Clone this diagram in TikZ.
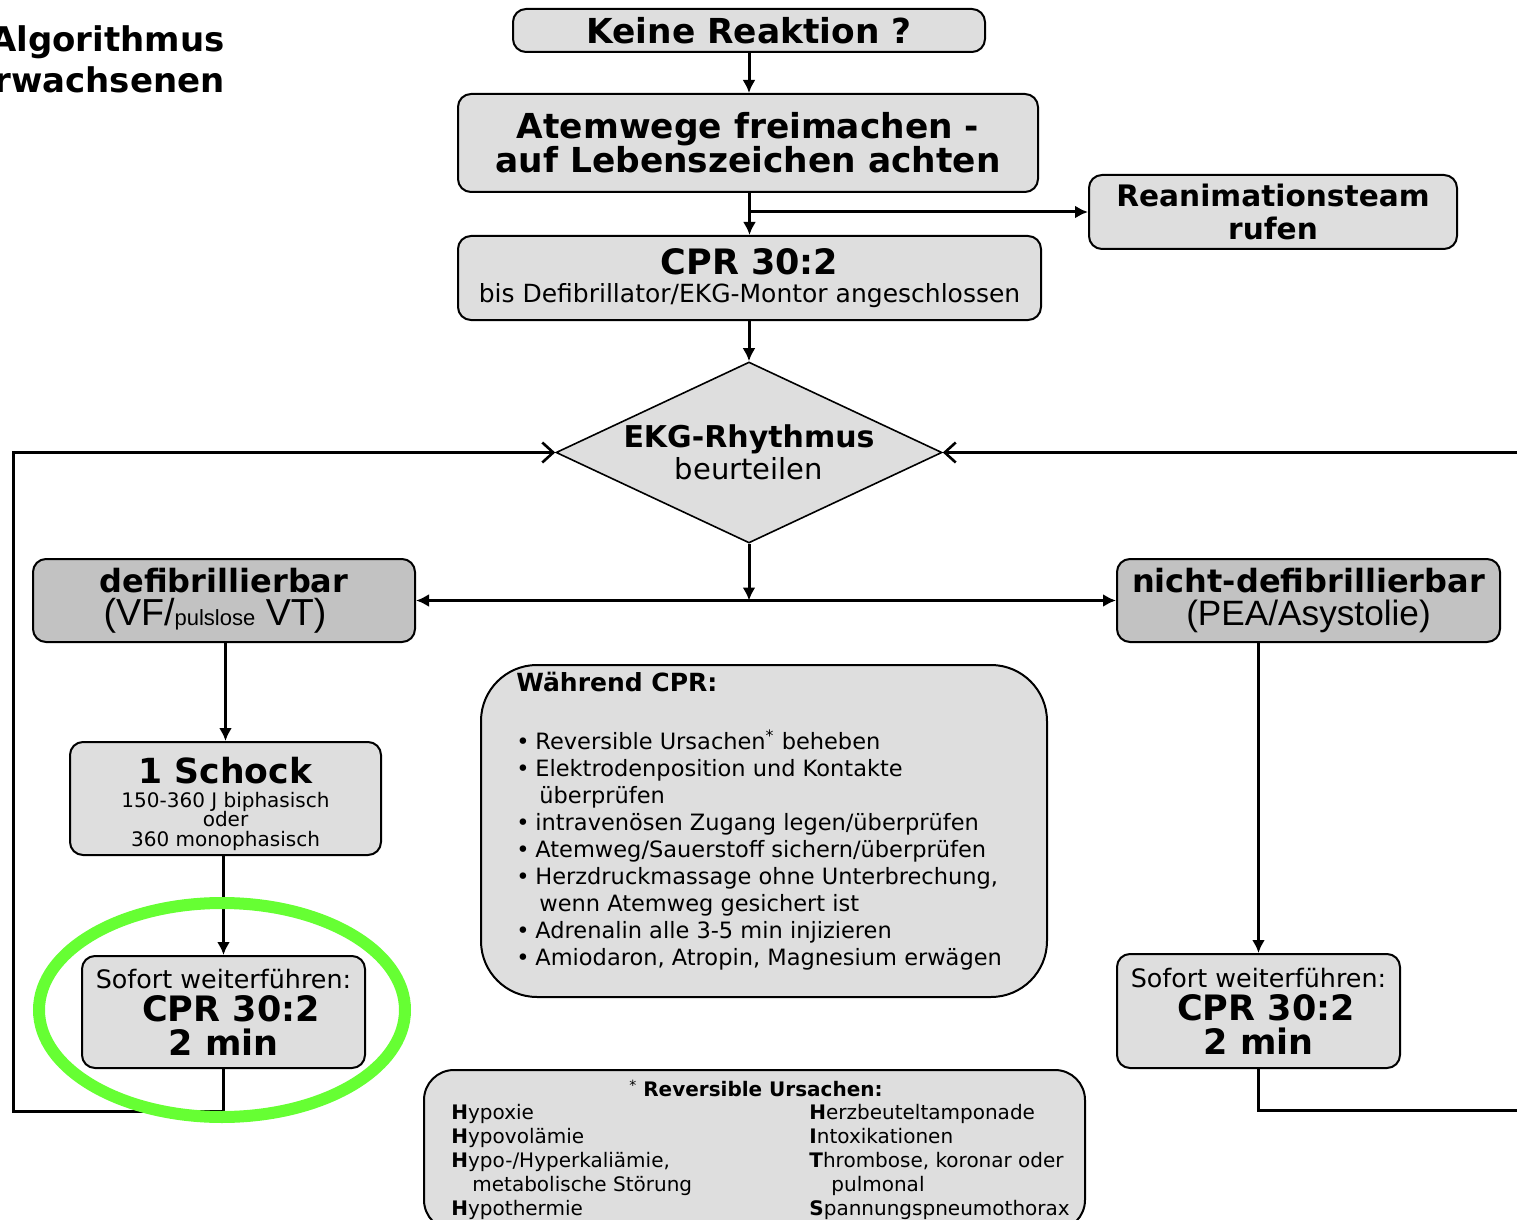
\documentclass[tikz,border=0pt]{standalone}
\usepackage{fontspec}
\setmainfont{DejaVu Sans}
\newfontfamily\arialfont{Liberation Sans}
\usetikzlibrary{arrows.meta,shapes.geometric}
\definecolor{boxgray}{HTML}{DEDEDE}
\definecolor{darkgray}{HTML}{C2C2C2}
\definecolor{markgreen}{HTML}{66FF33}
\newcommand\fsz[2]{\fontsize{#1}{#2}\selectfont}
\newcommand\blt{\makebox[9.5pt][l]{\textbullet}}
\newcommand\cnt{\hspace*{11.5pt}}
\begin{document}
\begin{tikzpicture}[x=0.5pt,y=-0.5pt,
  box/.style={draw, fill=boxgray, line width=1pt, rounded corners=6.5pt, inner sep=0pt, align=center},
  darkbox/.style={box, fill=darkgray},
  conn/.style={line width=1.5pt, -{Latex[length=6.5pt,width=6.5pt]}},
  back/.style={line width=1.5pt, -{Straight Barb[length=5.5pt,width=10pt,line width=1.3pt]}},
  plain/.style={inner sep=0pt, align=left}
]
\useasboundingbox (0,0) rectangle (1517,1220);
\clip (0,0) rectangle (1517,1220);

% heading (runs past the left margin)
\node[anchor=north east, inner sep=0pt, align=right, font=\fsz{17}{20.5}\bfseries] (title) at (225,25) {Algorithmus\\rwachsenen};

% main column
\node[box, minimum width=236pt, minimum height=21.5pt, font=\fsz{17.2}{17}\bfseries] (keine) at (749,30.5) {Keine Reaktion ?};
\node[box, minimum width=290pt, minimum height=49pt, font=\fsz{17.2}{17}\bfseries] (atem) at (748,143) {Atemwege freimachen -\\auf Lebenszeichen achten};
\node[box, minimum width=184pt, minimum height=37pt, font=\fsz{14.8}{16.5}\bfseries] (rean) at (1273,212) {Reanimationsteam\\rufen};
\node[box, minimum width=291.5pt, minimum height=42pt, font=\fsz{12.5}{14}] (cpr) at (749.5,278) {{\fsz{17.5}{14}\bfseries CPR 30:2}\\bis Defibrillator/EKG-Montor angeschlossen};

% rhythm decision
\node[diamond, draw, fill=boxgray, line width=0.8pt, minimum width=193pt, minimum height=90.5pt, inner sep=0pt] (ekg) at (749,452.5) {};
\node[inner sep=0pt, align=center, font=\fsz{14.5}{16}] (ekgtext) at (749,452) {{\fsz{15}{16}\bfseries EKG-Rhythmus}\\beurteilen};

% branches
\node[darkbox, minimum width=191pt, minimum height=41.5pt, font=\fsz{16}{16.5}] (defib) at (224,600.5) {{\bfseries defibrillierbar}\\{\arialfont\fsz{18.8}{16.5}(VF/{\fsz{11}{16.5}pulslose} VT)\hspace*{9pt}}};
\node[darkbox, minimum width=191.5pt, minimum height=41.5pt, font=\fsz{16}{16.5}] (nicht) at (1308.5,600.5) {{\bfseries nicht-defibrillierbar}\\{\arialfont\fsz{17.6}{16.5}(PEA/Asystolie)}};

\node[box, minimum width=155.5pt, minimum height=56.5pt] (schock) at (225.5,798.5) {};
\node[inner sep=0pt, align=center, font=\fsz{10}{9.8}] (schocktext) at (225.5,804) {{\fsz{17.3}{10}\bfseries 1 Schock}\\[2pt]150-360 J biphasisch\\oder\\360 monophasisch};

\node[box, minimum width=141.5pt, minimum height=56pt, font=\fsz{12.7}{16.8}] (sofortL) at (223.5,1012) {Sofort weiterführen:\\{\fsz{17.5}{16.8}\bfseries\hspace*{7.5pt}CPR 30:2}\\{\fsz{17.5}{16.8}\bfseries 2 min}};
\node[box, minimum width=141.5pt, minimum height=57pt, font=\fsz{12.7}{16.8}] (sofortR) at (1258.5,1011) {Sofort weiterführen:\\{\fsz{17.5}{16.8}\bfseries\hspace*{7.5pt}CPR 30:2}\\{\fsz{17.5}{16.8}\bfseries 2 min}};

% measures during CPR
\node[box, rounded corners=28pt, minimum width=283pt, minimum height=166pt] (cprbox) at (764,831) {};
\node[plain, anchor=north west, font=\fsz{12.5}{13.5}\bfseries] (cprhead) at (516,672) {Während CPR:};
\node[plain, anchor=north west, font=\fsz{11.25}{13.5}] (cprlist) at (516,729) {%
\blt Reversible Ursachen\textsuperscript{*} beheben\\
\blt Elektrodenposition und Kontakte\\
\cnt überprüfen\\
\blt intravenösen Zugang legen/überprüfen\\
\blt Atemweg/Sauerstoff sichern/überprüfen\\
\blt Herzdruckmassage ohne Unterbrechung,\\
\cnt wenn Atemweg gesichert ist\\
\blt Adrenalin alle 3-5 min injizieren\\
\blt Amiodaron, Atropin, Magnesium erwägen};

% reversible causes
\node[box, rounded corners=15pt, minimum width=330.5pt, minimum height=80pt] (ursbox) at (754.5,1150) {};
\node[inner sep=0pt, font=\fsz{10}{12}\bfseries] (urshead) at (756,1088) {{\fsz{7}{8}\mdseries\raisebox{3pt}{*}} Reversible Ursachen:};
\node[plain, anchor=north west, font=\fsz{10}{12}] (ursleft) at (451,1104) {%
\textbf{H}ypoxie\\
\textbf{H}ypovolämie\\
\textbf{H}ypo-/Hyperkaliämie,\\
\hspace*{10.5pt}metabolische Störung\\
\textbf{H}ypothermie};
\node[plain, anchor=north west, font=\fsz{10}{12}] (ursright) at (809,1103.5) {%
\textbf{H}erzbeuteltamponade\\
\textbf{I}ntoxikationen\\
\textbf{T}hrombose, koronar oder\\
\hspace*{11pt}pulmonal\\
\textbf{S}pannungspneumothorax};

% connectors
\draw[conn] (keine.south) -- (keine.south |- atem.north);
\draw[conn] (cpr.north |- atem.south) -- (cpr.north);
\coordinate (split) at (cpr.north |- rean.west);
\draw[conn] (split) -- (rean.west);
\draw[conn] (ekg.north |- cpr.south) -- (ekg.north);
\coordinate (fork) at (ekg.south |- defib.east);
\draw[conn] (ekg.south) -- (fork);
\draw[line width=1.5pt, {Latex[length=6.5pt,width=6.5pt]}-{Latex[length=6.5pt,width=6.5pt]}] (defib.east) -- (nicht.west);
\draw[conn] (schock.north |- defib.south) -- (schock.north);
\draw[conn] (sofortL.north |- schock.south) -- (sofortL.north);
\draw[conn] (sofortR.north |- nicht.south) -- (sofortR.north);
\coordinate (loopL) at (13,1111);
\draw[back] (sofortL.south) |- (loopL) |- (ekg.west);
\coordinate (loopR) at (1535,1110);
\draw[back] (sofortR.south) |- (loopR) |- (ekg.east);

% highlight ring
\draw[markgreen, line width=6pt] (222,1010) ellipse [x radius=183, y radius=107];
\end{tikzpicture}
\end{document}
